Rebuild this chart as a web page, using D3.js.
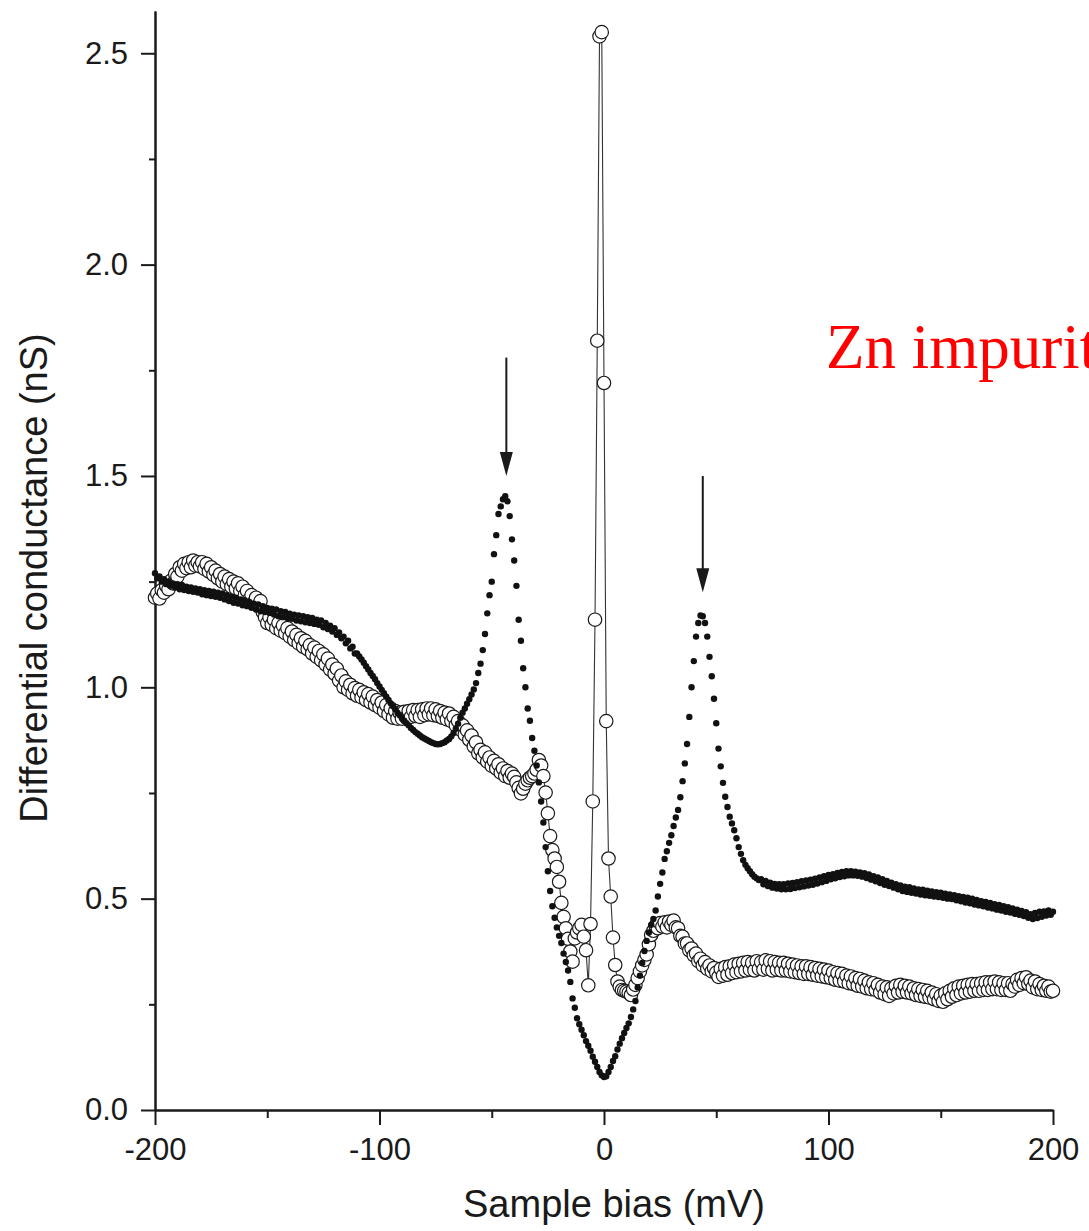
<!DOCTYPE html>
<html>
<head>
<meta charset="utf-8">
<script src="https://cdn.jsdelivr.net/npm/d3@7"></script>
<style>
  html, body { margin: 0; padding: 0; background: #fff; }
  svg { display: block; }
</style>
</head>
<body>
<div id="chart"></div>
<script>
// bias sweep, 1 mV per sample
var biasMv = d3.range(-200, 201, 1);

// black dots: spectrum on the Zn impurity (nS)
var zincSite = [
  1.270, 1.258, 1.262, 1.250, 1.256, 1.244, 1.250, 1.240, 1.246, 1.236,
  1.244, 1.232, 1.242, 1.230, 1.238, 1.228, 1.236, 1.226, 1.234, 1.224,
  1.232, 1.220, 1.230, 1.218, 1.228, 1.216, 1.226, 1.214, 1.224, 1.212,
  1.222, 1.208, 1.218, 1.204, 1.214, 1.200, 1.212, 1.198, 1.208, 1.194,
  1.206, 1.192, 1.202, 1.188, 1.198, 1.184, 1.196, 1.180, 1.192, 1.178,
  1.188, 1.176, 1.186, 1.172, 1.184, 1.168, 1.180, 1.166, 1.178, 1.164,
  1.174, 1.162, 1.172, 1.158, 1.170, 1.156, 1.168, 1.154, 1.166, 1.152,
  1.164, 1.150, 1.160, 1.148, 1.158, 1.142, 1.152, 1.138, 1.146, 1.132,
  1.140, 1.124, 1.130, 1.116, 1.120, 1.104, 1.110, 1.092, 1.096, 1.080,
  1.080, 1.073, 1.066, 1.058, 1.050, 1.042, 1.034, 1.027, 1.019, 1.010,
  1.002, 0.994, 0.986, 0.978, 0.970, 0.962, 0.955, 0.948, 0.940, 0.934,
  0.927, 0.921, 0.915, 0.910, 0.904, 0.899, 0.894, 0.890, 0.886, 0.882,
  0.879, 0.876, 0.873, 0.870, 0.868, 0.866, 0.865, 0.866, 0.868, 0.870,
  0.874, 0.878, 0.884, 0.892, 0.902, 0.914, 0.928, 0.940, 0.950, 0.961,
  0.972, 0.983, 0.995, 1.010, 1.034, 1.056, 1.088, 1.126, 1.175, 1.218,
  1.250, 1.315, 1.360, 1.410, 1.428, 1.445, 1.452, 1.440, 1.405, 1.350,
  1.300, 1.240, 1.160, 1.110, 1.045, 1.000, 0.950, 0.921, 0.880, 0.850,
  0.815, 0.775, 0.730, 0.680, 0.622, 0.565, 0.518, 0.482, 0.455, 0.432,
  0.412, 0.395, 0.370, 0.350, 0.330, 0.303, 0.264, 0.242, 0.217, 0.203,
  0.190, 0.177, 0.163, 0.152, 0.140, 0.126, 0.114, 0.102, 0.090, 0.082,
  0.078, 0.080, 0.090, 0.102, 0.116, 0.127, 0.143, 0.157, 0.170, 0.182,
  0.194, 0.205, 0.220, 0.238, 0.258, 0.290, 0.318, 0.348, 0.376, 0.400,
  0.420, 0.438, 0.452, 0.472, 0.505, 0.535, 0.562, 0.594, 0.612, 0.632,
  0.650, 0.672, 0.692, 0.710, 0.740, 0.778, 0.820, 0.866, 0.930, 1.000,
  1.062, 1.120, 1.152, 1.170, 1.168, 1.152, 1.120, 1.072, 1.026, 0.973,
  0.915, 0.855, 0.813, 0.774, 0.741, 0.717, 0.694, 0.678, 0.662, 0.643,
  0.622, 0.606, 0.591, 0.580, 0.572, 0.565, 0.558, 0.552, 0.548, 0.544,
  0.546, 0.534, 0.542, 0.530, 0.538, 0.526, 0.535, 0.524, 0.534, 0.522,
  0.534, 0.522, 0.536, 0.523, 0.537, 0.525, 0.539, 0.527, 0.541, 0.529,
  0.543, 0.531, 0.545, 0.533, 0.547, 0.536, 0.550, 0.539, 0.553, 0.542,
  0.556, 0.546, 0.558, 0.548, 0.561, 0.551, 0.563, 0.553, 0.565, 0.555,
  0.565, 0.555, 0.564, 0.554, 0.562, 0.552, 0.560, 0.549, 0.557, 0.545,
  0.553, 0.541, 0.550, 0.537, 0.546, 0.533, 0.542, 0.530, 0.538, 0.526,
  0.534, 0.522, 0.531, 0.518, 0.528, 0.516, 0.527, 0.514, 0.524, 0.512,
  0.522, 0.510, 0.521, 0.508, 0.519, 0.507, 0.517, 0.505, 0.515, 0.504,
  0.514, 0.502, 0.512, 0.500, 0.510, 0.499, 0.508, 0.496, 0.506, 0.494,
  0.504, 0.491, 0.502, 0.489, 0.500, 0.486, 0.497, 0.484, 0.494, 0.482,
  0.492, 0.479, 0.490, 0.477, 0.487, 0.474, 0.485, 0.472, 0.482, 0.469,
  0.480, 0.467, 0.477, 0.464, 0.474, 0.462, 0.471, 0.459, 0.468, 0.455,
  0.463, 0.452, 0.466, 0.454, 0.469, 0.457, 0.470, 0.460, 0.472, 0.462,
  0.469
];

// open circles: the other spectrum, with the sharp zero-bias peak (nS)
var openSite = [
  1.212, 1.222, 1.210, 1.230, 1.224, 1.240, 1.232, 1.252, 1.246, 1.268,
  1.262, 1.284, 1.276, 1.292, 1.282, 1.296, 1.284, 1.300, 1.288, 1.296,
  1.286, 1.296, 1.280, 1.292, 1.274, 1.284, 1.266, 1.276, 1.258, 1.268,
  1.250, 1.262, 1.244, 1.256, 1.238, 1.250, 1.234, 1.246, 1.228, 1.238,
  1.218, 1.228, 1.208, 1.218, 1.200, 1.212, 1.194, 1.204, 1.178, 1.166,
  1.152, 1.166, 1.148, 1.160, 1.140, 1.152, 1.134, 1.146, 1.128, 1.140,
  1.120, 1.132, 1.112, 1.124, 1.104, 1.116, 1.096, 1.110, 1.090, 1.100,
  1.080, 1.094, 1.072, 1.086, 1.064, 1.078, 1.054, 1.068, 1.042, 1.054,
  1.032, 1.044, 1.016, 1.028, 1.000, 1.014, 0.994, 1.006, 0.986, 0.998,
  0.980, 0.994, 0.976, 0.988, 0.970, 0.984, 0.964, 0.978, 0.958, 0.970,
  0.952, 0.964, 0.944, 0.958, 0.936, 0.950, 0.928, 0.944, 0.926, 0.940,
  0.926, 0.942, 0.928, 0.944, 0.930, 0.946, 0.932, 0.946, 0.930, 0.948,
  0.934, 0.950, 0.936, 0.950, 0.934, 0.948, 0.932, 0.944, 0.928, 0.940,
  0.924, 0.938, 0.920, 0.930, 0.910, 0.920, 0.900, 0.910, 0.888, 0.898,
  0.876, 0.886, 0.860, 0.870, 0.844, 0.852, 0.834, 0.846, 0.824, 0.834,
  0.814, 0.826, 0.808, 0.818, 0.798, 0.808, 0.790, 0.802, 0.786, 0.796,
  0.788, 0.775, 0.762, 0.749, 0.760, 0.772, 0.780, 0.786, 0.790, 0.796,
  0.805, 0.828, 0.815, 0.790, 0.751, 0.702, 0.648, 0.615, 0.595, 0.575,
  0.540, 0.490, 0.457, 0.430, 0.405, 0.375, 0.351, 0.406, 0.420, 0.430,
  0.438, 0.410, 0.378, 0.295, 0.440, 0.730, 1.160, 1.820, 2.540, 2.550,
  1.720, 0.920, 0.595, 0.505, 0.408, 0.343, 0.304, 0.292, 0.284, 0.282,
  0.280, 0.277, 0.272, 0.285, 0.296, 0.312, 0.328, 0.342, 0.355, 0.368,
  0.392, 0.414, 0.424, 0.436, 0.430, 0.442, 0.434, 0.444, 0.432, 0.446,
  0.438, 0.448, 0.432, 0.430, 0.412, 0.410, 0.394, 0.394, 0.378, 0.382,
  0.366, 0.370, 0.352, 0.358, 0.342, 0.350, 0.334, 0.342, 0.328, 0.336,
  0.325, 0.315, 0.334, 0.318, 0.338, 0.320, 0.340, 0.324, 0.344, 0.326,
  0.346, 0.328, 0.348, 0.330, 0.350, 0.332, 0.348, 0.330, 0.352, 0.334,
  0.350, 0.332, 0.354, 0.334, 0.352, 0.330, 0.350, 0.332, 0.348, 0.330,
  0.348, 0.330, 0.346, 0.328, 0.344, 0.326, 0.342, 0.324, 0.340, 0.322,
  0.340, 0.322, 0.338, 0.320, 0.336, 0.318, 0.334, 0.316, 0.332, 0.314,
  0.330, 0.312, 0.326, 0.308, 0.324, 0.306, 0.322, 0.304, 0.318, 0.300,
  0.316, 0.298, 0.312, 0.294, 0.310, 0.292, 0.306, 0.288, 0.302, 0.286,
  0.300, 0.284, 0.296, 0.278, 0.292, 0.274, 0.290, 0.270, 0.288, 0.276,
  0.294, 0.278, 0.296, 0.280, 0.294, 0.278, 0.292, 0.276, 0.288, 0.272,
  0.286, 0.270, 0.284, 0.268, 0.282, 0.266, 0.278, 0.262, 0.274, 0.258,
  0.270, 0.256, 0.276, 0.262, 0.282, 0.268, 0.288, 0.272, 0.292, 0.276,
  0.294, 0.278, 0.296, 0.280, 0.298, 0.282, 0.298, 0.282, 0.300, 0.284,
  0.302, 0.284, 0.302, 0.286, 0.304, 0.286, 0.302, 0.284, 0.300, 0.284,
  0.300, 0.282, 0.298, 0.292, 0.308, 0.296, 0.312, 0.300, 0.314, 0.298,
  0.306, 0.290, 0.304, 0.286, 0.298, 0.284, 0.294, 0.282, 0.292, 0.280,
  0.282
];

// axis ticks
var xMajor = [-200, -100, 0, 100, 200];
var xMinor = [-150, -50, 50, 150];
var yMajor = [0, 0.5, 1.0, 1.5, 2.0, 2.5];
var yMinor = [0.25, 0.75, 1.25, 1.75, 2.25];

// arrows marking the two peaks: [bias, from, to]
var arrows = [[-43.5, 1.78, 1.50], [44, 1.50, 1.225]];

var label = 'Zn impurity';

var W = 1089, H = 1231;
var svg = d3.select('#chart').append('svg')
    .attr('width', W).attr('height', H)
    .style('font-family', '"Liberation Sans", Arial, Helvetica, sans-serif');

var x = d3.scaleLinear().domain([-200, 200]).range([155, 1053]);
var y = d3.scaleLinear().domain([0, 2.6]).range([1110, 11]);

var ink = '#1a1a1a';

// axes
function styleAxis(g) {
    g.selectAll('path, line').attr('stroke', ink).attr('stroke-width', 2);
    g.selectAll('text').attr('fill', ink).style('font-size', '31px')
        .style('font-family', '"Liberation Sans", Arial, Helvetica, sans-serif');
}

svg.append('g').attr('transform', 'translate(0,' + y(0) + ')')
    .call(d3.axisBottom(x).tickValues(xMinor).tickSizeInner(8).tickSizeOuter(0).tickFormat(''))
    .call(styleAxis);
svg.append('g').attr('transform', 'translate(0,' + y(0) + ')')
    .call(d3.axisBottom(x).tickValues(xMajor).tickSizeInner(15).tickSizeOuter(0).tickPadding(13).tickFormat((d) => String(d)))
    .call(styleAxis);
svg.append('g').attr('transform', 'translate(' + x(-200) + ',0)')
    .call(d3.axisLeft(y).tickValues(yMinor).tickSizeInner(6).tickSizeOuter(0).tickFormat(''))
    .call(styleAxis);
svg.append('g').attr('transform', 'translate(' + x(-200) + ',0)')
    .call(d3.axisLeft(y).tickValues(yMajor).tickSizeInner(14).tickSizeOuter(0).tickPadding(13).tickFormat(d3.format('.1f')))
    .call(styleAxis);

// axis titles
svg.append('text')
    .attr('x', 614).attr('y', 1217)
    .attr('text-anchor', 'middle')
    .attr('fill', ink).style('font-size', '38px')
    .text('Sample bias (mV)');
svg.append('text')
    .attr('transform', 'translate(47,578) rotate(-90)')
    .attr('text-anchor', 'middle')
    .attr('fill', ink).style('font-size', '38px')
    .text('Differential conductance (nS)');

// open-circle series: thin connecting line, then the circles
var openPts = biasMv.map((b, i) => [b, openSite[i]]);
var dotPts = biasMv.map((b, i) => [b, zincSite[i]]);

svg.append('path')
    .datum(openPts)
    .attr('fill', 'none')
    .attr('stroke', '#333')
    .attr('stroke-width', 1.1)
    .attr('d', d3.line().x((d) => x(d[0])).y((d) => y(d[1])));

svg.append('g').selectAll('circle')
    .data(openPts)
    .join('circle')
    .attr('cx', (d) => x(d[0]))
    .attr('cy', (d) => y(d[1]))
    .attr('r', 6.7)
    .attr('fill', '#fff')
    .attr('stroke', ink)
    .attr('stroke-width', 1.2);

// filled dots on top
svg.append('g').selectAll('circle')
    .data(dotPts)
    .join('circle')
    .attr('cx', (d) => x(d[0]))
    .attr('cy', (d) => y(d[1]))
    .attr('r', 3.2)
    .attr('fill', '#111');

// arrows
arrows.forEach((a) => {
    var ax = x(a[0]), y0 = y(a[1]), y1 = y(a[2]);
    svg.append('line')
        .attr('x1', ax).attr('x2', ax)
        .attr('y1', y0).attr('y2', y1 - 20)
        .attr('stroke', ink).attr('stroke-width', 2);
    svg.append('path')
        .attr('d', 'M' + ax + ',' + y1 + 'L' + (ax - 6.5) + ',' + (y1 - 24) + 'L' + (ax + 6.5) + ',' + (y1 - 24) + 'Z')
        .attr('fill', ink);
});

// red annotation, runs off the right edge as in the original figure
svg.append('text')
    .attr('x', 826).attr('y', 368)
    .attr('fill', '#ff0000')
    .style('font-family', '"Liberation Serif", "Times New Roman", Times, serif')
    .style('font-size', '63px')
    .text(label);
</script>
</body>
</html>
